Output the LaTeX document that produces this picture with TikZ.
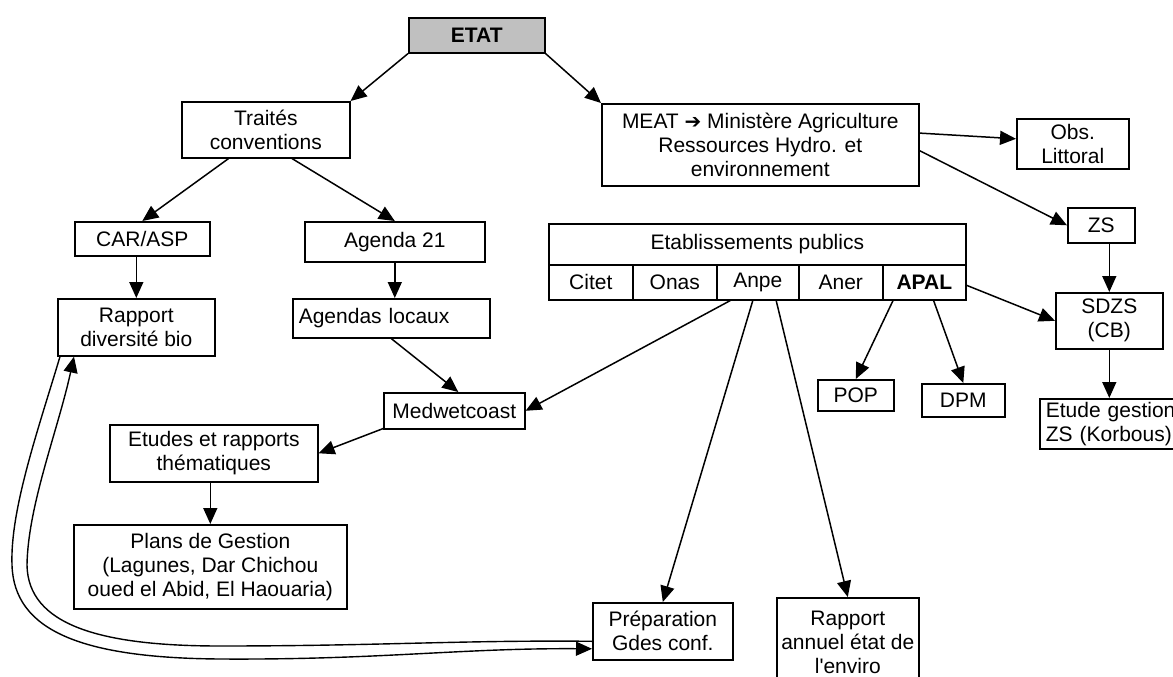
\documentclass[tikz,border=0pt]{standalone}
\usepackage{fontspec}
\setmainfont{Liberation Sans}[Ligatures=TeXOff]
\newfontfamily\djv{DejaVu Sans}
\usetikzlibrary{arrows.meta,calc}
\tikzset{
  box/.style={draw=black, line width=1.6pt, rectangle, inner sep=0pt, anchor=north west,
    align=center, font=\fontsize{21}{24}\selectfont},
  conn/.style={line width=1.5pt, -{Triangle[length=16pt,width=14pt]}},
  dbl/.style={line width=1.4pt, -{Triangle[length=16pt,width=14pt]}}
}
\begin{document}
\begin{tikzpicture}[x=1pt,y=-1pt]
\useasboundingbox (0,0) rectangle (1173,677);
\fill[white] (0,0) rectangle (1173,677);

% nodes
\node[box, fill={rgb,255:red,192;green,192;blue,192}, minimum width=136pt, minimum height=35pt] (etat) at (408,17) {\textbf{ETAT}};
\node[box, minimum width=168pt, minimum height=56pt] (trait) at (181,101) {Traités\\conventions};
\node[box, minimum width=317pt, minimum height=82pt] (meat) at (601,103) {MEAT {\djv\bfseries\fontsize{20}{24}\selectfont ➔} Ministère Agriculture\\Ressources Hydro. et\\environnement};
\node[box, minimum width=112pt, minimum height=50pt] (obs) at (1016,118) {Obs.\\Littoral};
\node[box, minimum width=67pt, minimum height=35pt] (zs) at (1067,207) {ZS};
\node[box, minimum width=107pt, minimum height=56pt] (sdzs) at (1055,292) {SDZS\\(CB)};
\node[box, align=left, text width=134pt, inner xsep=6pt, minimum height=50pt] (etude) at (1039,398) {Etude gestion\\ZS (Korbous)};

\node[box, minimum width=135pt, minimum height=34pt] (car) at (74,221) {CAR/ASP};
\node[box, minimum width=180pt, minimum height=40pt] (ag) at (304,221) {Agenda 21};
\node[box, minimum width=157pt, minimum height=57pt] (rap) at (57,298) {Rapport\\diversité bio};
\node[box, align=left, text width=185pt, inner xsep=6pt, minimum height=39pt] (agl) at (292,298) {Agendas locaux};
\node[box, minimum width=141pt, minimum height=36pt] (med) at (383,392) {Medwetcoast};
\node[box, minimum width=208pt, minimum height=57pt] (etu) at (109,424) {Etudes et rapports\\thématiques};
\node[box, minimum width=273pt, minimum height=84pt] (plans) at (73,524) {Plans de Gestion\\(Lagunes, Dar Chichou\\oued el Abid, El Haouaria)};

% Etablissements publics table
\node[box, minimum width=417pt, minimum height=41pt] (etab) at (548,223) {Etablissements publics};
\node[box, minimum width=84pt, minimum height=35pt] (citet) at (548,264) {Citet};
\node[box, minimum width=84pt, minimum height=35pt] (onas) at (632,264) {Onas};
\node[box, minimum width=82pt, minimum height=35pt] (anpe) at (716,264) {Anpe};
\node[box, minimum width=84pt, minimum height=35pt] (aner) at (798,264) {Aner};
\node[box, minimum width=83pt, minimum height=35pt] (apal) at (882,264) {\textbf{APAL}};

\node[box, minimum width=76pt, minimum height=31pt] (pop) at (817,379) {POP};
\node[box, minimum width=83pt, minimum height=33pt] (dpm) at (921,383) {DPM};
\node[box, minimum width=140pt, minimum height=57pt] (prep) at (592,602) {Préparation\\Gdes conf.};
\node[box, minimum width=142pt, minimum height=90pt] (rae) at (776,597) {Rapport\\annuel état de\\l'enviro};

% connectors
\draw[conn] (etat.south west) -- (trait.north east);
\draw[conn] (etat.south east) -- (meat.north west);
\draw[conn] ($(trait.south west)!0.28!(trait.south east)$) -- (car.north);
\draw[conn] ($(trait.south west)!0.655!(trait.south east)$) -- (ag.north);
\draw[conn] (car.south -| rap.north) -- (rap.north);
\draw[conn] (ag.south) -- (ag.south |- agl.north);
\draw[conn] (agl.south) -- ($(med.north)+(4,0)$);
\draw[conn] ($(med.south west)+(0,-1)$) -- (etu.east);
\draw[conn] (etu.south -| plans.north) -- (plans.north);
\draw[conn] ($(meat.north east)!0.36!(meat.south east)$) -- ($(obs.west)+(0,-5)$);
\draw[conn] ($(meat.north east)!0.57!(meat.south east)$) -- (zs.west);
\draw[conn] (zs.south -| sdzs.north) -- (sdzs.north);
\draw[conn] (sdzs.south) -- (sdzs.south |- etude.north);
\draw[conn] ($(apal.south west)!0.13!(apal.south east)$) -- (pop.north);
\draw[conn] ($(apal.south west)!0.61!(apal.south east)$) -- (dpm.north);
\draw[conn] ($(apal.east)+(0,3)$) -- (sdzs.west);
\draw[conn] ($(anpe.south west)!0.17!(anpe.south east)$) -- (med.east);
\draw[conn] ($(anpe.south west)!0.44!(anpe.south east)$) -- (prep.north);
\draw[conn] ($(anpe.south west)!0.72!(anpe.south east)$) -- (rae.north);

% double curved connectors between Rapport diversité bio and Préparation
\draw[dbl] ($(rap.south west)+(3,0)$) .. controls (38,430) and (10,510) .. (12,565)
  .. controls (14,630) and (80,658) .. (220,659)
  .. controls (380,660) and (460,648) .. ($(prep.west)+(0,17.5)$);
\draw[dbl] ($(prep.west)+(0,10)$) .. controls (460,640) and (380,646) .. (220,646)
  .. controls (100,646) and (28,625) .. (27,565)
  .. controls (28,505) and (58,430) .. ($(rap.south west)+(17,0)$);
\end{tikzpicture}
\end{document}
